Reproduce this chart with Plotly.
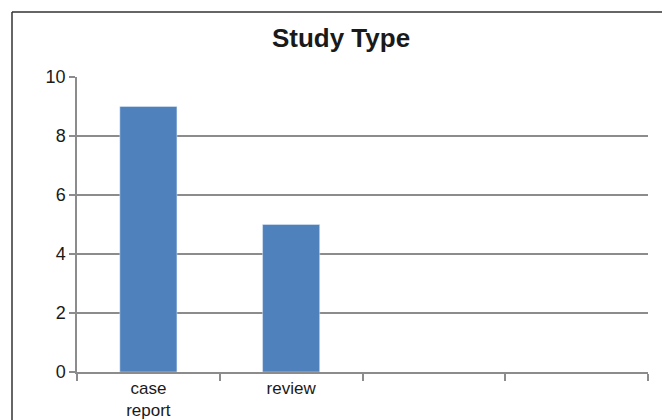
import plotly.graph_objects as go

categories = ["case<br>report", "review", " ", "  "]
values = [9, 5, None, None]
y_ticks = [0, 2, 4, 6, 8, 10]

# page body has an 8px margin, so the figure is drawn 8px smaller and shifted
OFF = 8
W, H = 670 - OFF, 420 - OFF
L, R, T, B = 77 - OFF, 22, 77 - OFF, 48
pw, ph = W - L - R, H - T - B

fig = go.Figure(go.Bar(x=categories, y=values, marker_color="#4f81bd", width=0.4))

font_fam = "Liberation Sans, Arial, sans-serif"
fig.update_layout(
    width=W, height=H,
    margin=dict(l=L, r=R, t=T, b=B, autoexpand=False),
    paper_bgcolor="white", plot_bgcolor="white",
    title=dict(text="<b>Study Type</b>", x=(341 - OFF) / W, xanchor="center",
               y=1 - (38 - OFF) / H, yanchor="middle",
               font=dict(family=font_fam, size=26, color="#1a1a1a")),
    showlegend=False,
    font=dict(family=font_fam, size=17, color="#1a1a1a"),
)
fig.update_xaxes(type="category", showline=True, linecolor="#8c8c8c", linewidth=1.5,
                 ticks="outside", tickson="boundaries", ticklen=7, tickcolor="#8c8c8c", tickwidth=1.5,
                 showgrid=False, tickfont=dict(size=17), automargin=False)
fig.update_yaxes(range=[0, 10], tickvals=y_ticks, showline=True, linecolor="#8c8c8c", linewidth=1.5,
                 ticks="outside", ticklen=6, tickcolor="#8c8c8c", tickwidth=1.5,
                 showgrid=True, gridcolor="#8c8c8c", gridwidth=1.5, zeroline=False,
                 tickfont=dict(size=18), automargin=False)
# outer frame: only the left and top edges are on the page
fx0 = (12 - OFF - L) / pw
fy1 = 1 + (T - (12 - OFF)) / ph
fig.add_shape(type="line", xref="paper", yref="paper", x0=fx0, x1=fx0, y0=-(B + 20) / ph, y1=fy1,
              line=dict(color="#333333", width=1.5))
fig.add_shape(type="line", xref="paper", yref="paper", x0=fx0, x1=(W + 20 - L) / pw, y0=fy1, y1=fy1,
              line=dict(color="#333333", width=1.5))
fig.write_html("out.html")
